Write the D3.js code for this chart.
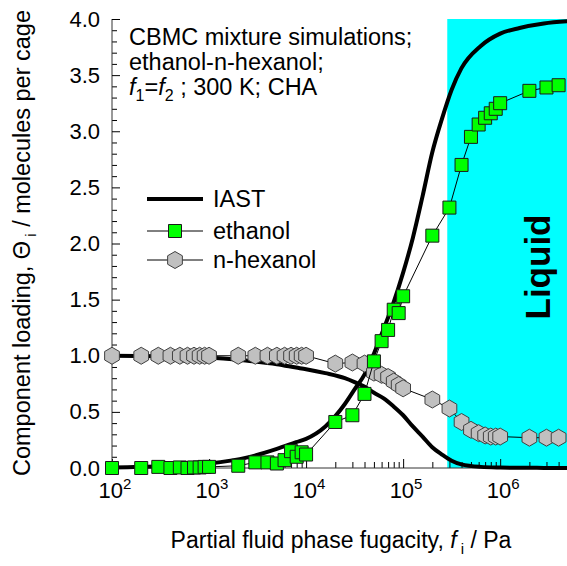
<!DOCTYPE html>
<html>
<head>
<meta charset="utf-8">
<script src="https://cdn.jsdelivr.net/npm/d3@7"></script>
<style>
  body { margin: 0; background: #fff; }
  svg { display: block; font-family: "Liberation Sans", Arial, sans-serif; }
</style>
</head>
<body>
<script>
// CBMC simulation points (fugacity in Pa, loading in molecules per cage)
const simFugacity = [100, 200, 300, 400, 500, 600, 700, 800, 900, 1000,
  2000, 3000, 4000, 5000, 6000, 7000, 8000, 9000, 10000,
  20000, 30000, 40000, 50000, 60000, 70000, 80000, 90000, 100000,
  200000, 300000, 400000, 500000, 600000, 700000, 800000, 900000, 1000000,
  2000000, 3000000, 4000000];
const ethanolLoading = [0.0, 0.0, 0.01, 0.0, 0.005, 0.0, 0.005, 0.005, 0.01, 0.01,
  0.02, 0.05, 0.05, 0.04, 0.07, 0.15, 0.10, 0.14, 0.12,
  0.41, 0.47, 0.66, 0.95, 1.13, 1.23, 1.41, 1.38, 1.53,
  2.07, 2.32, 2.70, 2.95, 3.06, 3.12, 3.16, 3.20, 3.25,
  3.36, 3.39, 3.41];
const hexanolLoading = [1.0, 1.0, 1.0, 1.0, 1.0, 1.0, 1.0, 1.0, 1.0, 1.0,
  1.0, 1.0, 1.0, 1.0, 1.0, 1.0, 1.0, 1.0, 1.0,
  0.93, 0.94, 0.93, 0.85, 0.83, 0.81, 0.77, 0.74, 0.71,
  0.61, 0.53, 0.41, 0.34, 0.31, 0.29, 0.28, 0.28, 0.28,
  0.27, 0.27, 0.27];

// IAST curves
const iastFugacity = [100, 320, 1000, 2500, 5000, 7900, 10000, 15800, 25100, 31600,
  39800, 50100, 63100, 79400, 100000, 125900, 158500, 199500, 251200, 316200,
  398100, 631000, 1000000, 1585000, 2818000, 5000000];
const iastEthanol = [0.005, 0.015, 0.04, 0.095, 0.17, 0.23, 0.26, 0.37, 0.57, 0.70,
  0.83, 1.02, 1.24, 1.47, 1.74, 2.05, 2.42, 2.81, 3.11, 3.37,
  3.56, 3.76, 3.87, 3.92, 3.96, 3.98];
const iastHexanol = [1.0, 0.995, 0.985, 0.955, 0.925, 0.895, 0.88, 0.845, 0.80, 0.765,
  0.725, 0.67, 0.62, 0.55, 0.47, 0.37, 0.28, 0.185, 0.12, 0.065,
  0.032, 0.01, 0.004, 0.002, 0.001, 0.0];

const liquidFrom = 285000;
const xDomain = [100, 5000000];
const xMajorTicks = [100, 1000, 10000, 100000, 1000000];
const yMajorTicks = [0, 0.5, 1.0, 1.5, 2.0, 2.5, 3.0, 3.5, 4.0];

const W = 567, H = 566;
const plot = {left: 112, right: 568, top: 19, bottom: 468};

const svg = d3.select('body').append('svg')
  .attr('width', W).attr('height', H);

const x = d3.scaleLog().domain(xDomain).range([plot.left, plot.right]);
const y = d3.scaleLinear().domain([0, 4]).range([plot.bottom, plot.top]);

// liquid region
svg.append('rect')
  .attr('x', x(liquidFrom)).attr('y', y(4))
  .attr('width', W - x(liquidFrom)).attr('height', y(0) - y(4))
  .attr('fill', '#00ffff');

svg.append('text')
  .attr('transform', `translate(550, 267) rotate(-90)`)
  .attr('text-anchor', 'middle')
  .attr('font-size', 35).attr('font-weight', 'bold')
  .text('Liquid');

// minor ticks
const xMinor = [];
for (let d = 100; d < 5000000; d *= 10) {
  for (let k = 2; k <= 9; k++) if (d * k <= 5000000) xMinor.push(d * k);
}
const yMinor = d3.range(0, 41).map(i => i / 10).filter(v => Math.abs(v * 2 - Math.round(v * 2)) > 1e-6);

svg.append('g')
  .attr('transform', `translate(0, ${plot.bottom})`)
  .call(d3.axisBottom(x).tickValues(xMinor).tickSize(-6).tickFormat(''))
  .call(g => g.select('.domain').remove());

const xAxis = svg.append('g')
  .attr('transform', `translate(0, ${plot.bottom})`)
  .call(d3.axisBottom(x).tickValues(xMajorTicks).tickSize(-9).tickPadding(14).tickFormat(''));
xAxis.select('.domain').attr('d', `M${plot.left},0H${W}`).attr('stroke', '#333');
xAxis.selectAll('.tick text').each(function(d) {
  const t = d3.select(this)
    .attr('font-size', 22).attr('fill', '#000')
    .attr('text-anchor', 'start').attr('x', -14).attr('dy', '0.71em');
  t.append('tspan').text('10');
  t.append('tspan').attr('font-size', 15).attr('dy', -9).text(Math.round(Math.log10(d)));
});

svg.append('g')
  .attr('transform', `translate(${plot.left}, 0)`)
  .call(d3.axisLeft(y).tickValues(yMinor).tickSize(-5).tickFormat(''))
  .call(g => g.select('.domain').remove());

const yAxis = svg.append('g')
  .attr('transform', `translate(${plot.left}, 0)`)
  .call(d3.axisLeft(y).tickValues(yMajorTicks).tickSize(-8).tickPadding(12).tickFormat(d3.format('.1f')));
yAxis.select('.domain').attr('d', `M0,${plot.top}V${plot.bottom}`).attr('stroke', '#333');
yAxis.selectAll('.tick text').attr('font-size', 22).attr('fill', '#000')
  .attr('font-family', '"Liberation Sans", Arial, sans-serif');

// IAST curves
const iastLine = arr => d3.line()
  .x((d, i) => x(iastFugacity[i]))
  .y(d => y(d))
  .curve(d3.curveMonotoneX)(arr);

[iastEthanol, iastHexanol].forEach(arr => {
  svg.append('path')
    .attr('d', iastLine(arr))
    .attr('fill', 'none').attr('stroke', '#000').attr('stroke-width', 4);
});

// markers
const hexPath = r => {
  const c = r * Math.cos(Math.PI / 6);
  return `M0,${-r}L${c},${-r / 2}L${c},${r / 2}L0,${r}L${-c},${r / 2}L${-c},${-r / 2}Z`;
};
const sqPath = s => `M${-s / 2},${-s / 2}h${s}v${s}h${-s}Z`;

const simLine = d3.line()
  .x((d, i) => x(simFugacity[i]))
  .y(d => y(d));

const series = [
  {vals: hexanolLoading, shape: hexPath(8.5), fill: '#c0c0c0', stroke: '#404040'},
  {vals: ethanolLoading, shape: sqPath(13), fill: '#00ff00', stroke: '#1a1a1a'}
];

series.forEach(s => {
  svg.append('path')
    .attr('d', simLine(s.vals))
    .attr('fill', 'none').attr('stroke', '#000').attr('stroke-width', 1);
  svg.append('g').selectAll('path')
    .data(s.vals)
    .enter().append('path')
    .attr('transform', (d, i) => `translate(${x(simFugacity[i])}, ${y(d)})`)
    .attr('d', s.shape)
    .attr('fill', s.fill).attr('stroke', s.stroke).attr('stroke-width', 1);
});

// annotation
const note = svg.append('g').attr('font-size', 23.5);
note.append('text').attr('x', 129).attr('y', 45).text('CBMC mixture simulations;');
note.append('text').attr('x', 129).attr('y', 70).text('ethanol-n-hexanol;');
const n3 = note.append('text').attr('x', 129).attr('y', 95);
n3.append('tspan').attr('font-style', 'italic').text('f');
n3.append('tspan').attr('font-size', 16).attr('dy', 6).text('1');
n3.append('tspan').attr('dy', -6).text('=');
n3.append('tspan').attr('font-style', 'italic').text('f');
n3.append('tspan').attr('font-size', 16).attr('dy', 6).text('2');
n3.append('tspan').attr('dy', -6).text(' ; 300 K; CHA');

// legend
const legend = svg.append('g').attr('font-size', 23.5);
legend.append('line').attr('x1', 147).attr('x2', 203).attr('y1', 199).attr('y2', 199)
  .attr('stroke', '#000').attr('stroke-width', 4);
legend.append('text').attr('x', 213).attr('y', 207).text('IAST');

[[series[1], 231, 'ethanol'], [series[0], 260, 'n-hexanol']].forEach(([s, ly, label]) => {
  legend.append('line').attr('x1', 147).attr('x2', 203).attr('y1', ly).attr('y2', ly)
    .attr('stroke', '#000').attr('stroke-width', 1);
  legend.append('path').attr('transform', `translate(175, ${ly})`).attr('d', s.shape)
    .attr('fill', s.fill).attr('stroke', s.stroke);
  legend.append('text').attr('x', 213).attr('y', ly + 8).text(label);
});

// axis titles
const xt = svg.append('text')
  .attr('x', 341).attr('y', 548).attr('text-anchor', 'middle').attr('font-size', 23);
xt.append('tspan').text('Partial fluid phase fugacity, ');
xt.append('tspan').attr('font-style', 'italic').text('f');
xt.append('tspan').attr('font-size', 15).attr('dy', 6).text(' i');
xt.append('tspan').attr('dy', -6).text(' / Pa');

const yt = svg.append('text')
  .attr('transform', 'translate(30, 243) rotate(-90)')
  .attr('text-anchor', 'middle').attr('font-size', 23.5);
yt.append('tspan').text('Component loading, \u0398');
yt.append('tspan').attr('font-size', 15).attr('dy', 6).text(' i');
yt.append('tspan').attr('dy', -6).text(' / molecules per cage');
</script>
</body>
</html>
